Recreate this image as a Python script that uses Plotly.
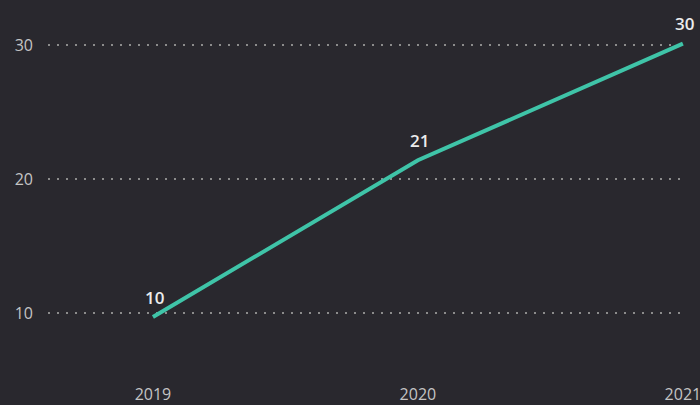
import plotly.graph_objects as go

years = [2019, 2020, 2021]
values = [9.7, 21.4, 30.1]
y_ticks = [10, 20, 30]
labels = [f"{v:.0f}" for v in values]

fig = go.Figure()
fig.add_trace(go.Scatter(
    x=years, y=values,
    mode="lines",
    line=dict(color="#3fc4a8", width=4),
    cliponaxis=False,
    hoverinfo="skip",
))
for x, y, t in zip(years, values, labels):
    fig.add_annotation(
        x=x, y=y, text=t, showarrow=False, yshift=20, xshift=2,
        font=dict(family="Open Sans, sans-serif", size=17, color="#ececec", weight=600),
    )

fig.update_layout(
    width=700, height=405,
    paper_bgcolor="#29282e",
    plot_bgcolor="#29282e",
    margin=dict(l=48, r=15, t=10, b=22, autoexpand=False),
    showlegend=False,
    font=dict(family="Open Sans, sans-serif", color="#c4c4c4", size=16),
)
fig.update_xaxes(
    range=[2018.604, 2021.008],
    tickvals=years, ticktext=[str(y) for y in years],
    showgrid=False, zeroline=False, showline=False,
    automargin=False, ticklabeloverflow="allow",
    tickfont=dict(size=16, color="#c4c4c4"),
)
fig.update_yaxes(
    range=[4.776, 32.61],
    tickvals=y_ticks,
    showgrid=True, gridcolor="#8c8c8c", gridwidth=1.5, griddash="2px,7px",
    zeroline=False, showline=False, automargin=False,
    ticklabelstandoff=14,
    tickfont=dict(size=16, color="#c4c4c4"),
)
fig.write_html(
    "out.html",
    config={"displayModeBar": False},
    post_script="document.body.style.margin='0';document.body.style.background='#29282e';",
)
